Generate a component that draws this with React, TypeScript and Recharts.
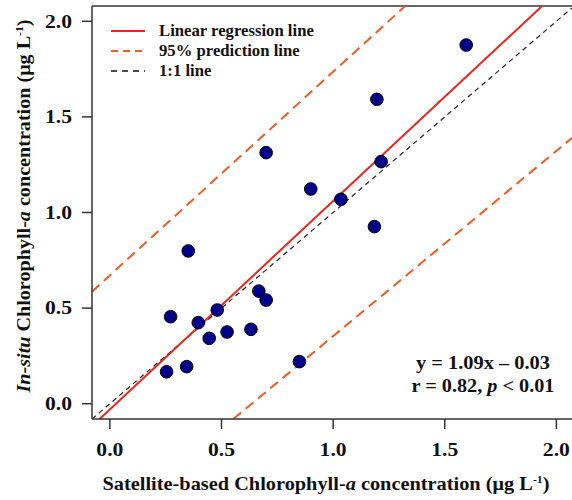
import {
  ComposedChart,
  Legend,
  Line,
  ReferenceLine,
  Scatter,
  XAxis,
  YAxis,
} from "recharts"

// satellite (x) vs in-situ (y) chl-a
const satelliteChl = [0.254, 0.344, 0.272, 0.396, 0.445, 0.481, 0.525, 0.632, 0.667, 0.7, 0.351, 0.849, 0.7, 0.9, 1.035, 1.185, 1.215, 1.196, 1.596]
const inSituChl = [0.167, 0.194, 0.455, 0.424, 0.342, 0.49, 0.375, 0.389, 0.589, 0.542, 0.799, 0.22, 1.313, 1.123, 1.069, 0.926, 1.266, 1.592, 1.876]

// line end points where they leave the plot box
const regressionLine = [{ x: -0.046, y: -0.08 }, { x: 1.936, y: 2.08 }]
const upperPrediction = [{ x: -0.08, y: 0.586 }, { x: 1.323, y: 2.08 }]
const lowerPrediction = [{ x: 0.553, y: -0.08 }, { x: 2.07, y: 1.39 }]
const oneToOne = [{ x: -0.08, y: -0.08 }, { x: 2.07, y: 2.07 }]

const xTicks = [0, 0.5, 1, 1.5, 2]
const yTicks = [0, 0.5, 1, 1.5, 2]

const points = satelliteChl.map((x, i) => ({ x, y: inSituChl[i] }))

const SERIF = '"Liberation Serif", "Times New Roman", serif'
const AXIS = "#333"
const RED = "#e8261c"
const ORANGE = "#f25a24"

const legendItems = [
  { label: "Linear regression line", color: RED, dash: undefined, width: 2 },
  { label: "95% prediction line", color: ORANGE, dash: "7 5", width: 2 },
  { label: "1:1 line", color: "#111", dash: "6 5", width: 1.5 },
]

function LegendBox() {
  return (
    <div style={{ fontFamily: SERIF, fontWeight: "bold", fontSize: 16.7 }}>
      {legendItems.map((it) => (
        <div key={it.label} style={{ display: "flex", alignItems: "center", height: 20 }}>
          <svg width={48} height={20} style={{ display: "block" }}>
            <line x1={0} x2={34} y1={10} y2={10} stroke={it.color} strokeWidth={it.width} strokeDasharray={it.dash} />
          </svg>
          <span style={{ lineHeight: "20px", color: "#111", whiteSpace: "nowrap" }}>{it.label}</span>
        </div>
      ))}
    </div>
  )
}

function Dot(props: { cx?: number; cy?: number }) {
  if (props.cx == null || props.cy == null) return null
  return <circle cx={props.cx} cy={props.cy} r={6.3} fill="#00008b" stroke="#000" strokeWidth={1} />
}

function AxisTick(props: any) {
  const { x, y, payload, axis } = props
  const label = Number(payload.value).toFixed(1)
  return (
    <text
      x={x}
      y={y}
      dy={axis === "x" ? "0.71em" : "0.355em"}
      textAnchor={axis === "x" ? "middle" : "end"}
      fontFamily={SERIF}
      fontWeight="bold"
      fontSize={18}
      fill="#111"
      textLength={27}
      lengthAdjust="spacingAndGlyphs"
    >
      {label}
    </text>
  )
}

const titleProps = { fontFamily: SERIF, fontWeight: "bold", fontSize: 19, fill: "#111" }

export default function App() {
  return (
    <div style={{ position: "absolute", left: 0, top: 0, background: "#fff" }}>
      <ComposedChart width={572} height={500} margin={{ top: 6, right: 0, bottom: 0, left: 0 }}>
        <XAxis
          type="number"
          dataKey="x"
          domain={[-0.08, 2.07]}
          ticks={xTicks}
          allowDataOverflow
          height={81}
          tickSize={10}
          tickMargin={14}
          stroke={AXIS}
          strokeWidth={1.5}
          tick={<AxisTick axis="x" />}
        />
        <YAxis
          type="number"
          dataKey="y"
          domain={[-0.08, 2.08]}
          ticks={yTicks}
          allowDataOverflow
          width={92}
          tickSize={10}
          tickMargin={10}
          stroke={AXIS}
          strokeWidth={1.5}
          tick={<AxisTick axis="y" />}
        />
        <ReferenceLine y={2.08} stroke={AXIS} strokeWidth={1.5} />
        <Line data={upperPrediction} dataKey="y" type="linear" stroke={ORANGE} strokeWidth={2} strokeDasharray="10 6" dot={false} isAnimationActive={false} legendType="none" />
        <Line data={lowerPrediction} dataKey="y" type="linear" stroke={ORANGE} strokeWidth={2} strokeDasharray="10 6" dot={false} isAnimationActive={false} legendType="none" />
        <Line data={oneToOne} dataKey="y" type="linear" stroke="#222" strokeWidth={1.2} strokeDasharray="5 4" dot={false} isAnimationActive={false} legendType="none" />
        <Line data={regressionLine} dataKey="y" type="linear" stroke={RED} strokeWidth={2} dot={false} isAnimationActive={false} legendType="none" />
        <Scatter data={points} dataKey="y" shape={<Dot />} isAnimationActive={false} legendType="none" />
        <Legend
          layout="vertical"
          align="center"
          verticalAlign="middle"
          content={() => <LegendBox />}
          wrapperStyle={{ left: 111, top: 21, width: "auto", height: "auto" }}
        />
        <text x={483} y={369} textAnchor="middle" {...titleProps} textLength={134} lengthAdjust="spacingAndGlyphs">
          y = 1.09x – 0.03
        </text>
        <text x={483} y={392} textAnchor="middle" {...titleProps} textLength={143} lengthAdjust="spacingAndGlyphs">
          r = 0.82, <tspan fontStyle="italic">p</tspan> &lt; 0.01
        </text>
        <text x={326} y={490} textAnchor="middle" {...titleProps} textLength={447} lengthAdjust="spacingAndGlyphs">
          Satellite-based Chlorophyll-<tspan fontStyle="italic">a</tspan> concentration (μg L
          <tspan dy={-7} fontSize={11}>-1</tspan>
          <tspan dy={7}>)</tspan>
        </text>
        <text transform="translate(30,206) rotate(-90)" textAnchor="middle" {...titleProps} textLength={373} lengthAdjust="spacingAndGlyphs">
          <tspan fontStyle="italic">In-situ</tspan> Chlorophyll-<tspan fontStyle="italic">a</tspan> concentration (μg L
          <tspan dy={-7} fontSize={11}>-1</tspan>
          <tspan dy={7}>)</tspan>
        </text>
      </ComposedChart>
    </div>
  )
}
